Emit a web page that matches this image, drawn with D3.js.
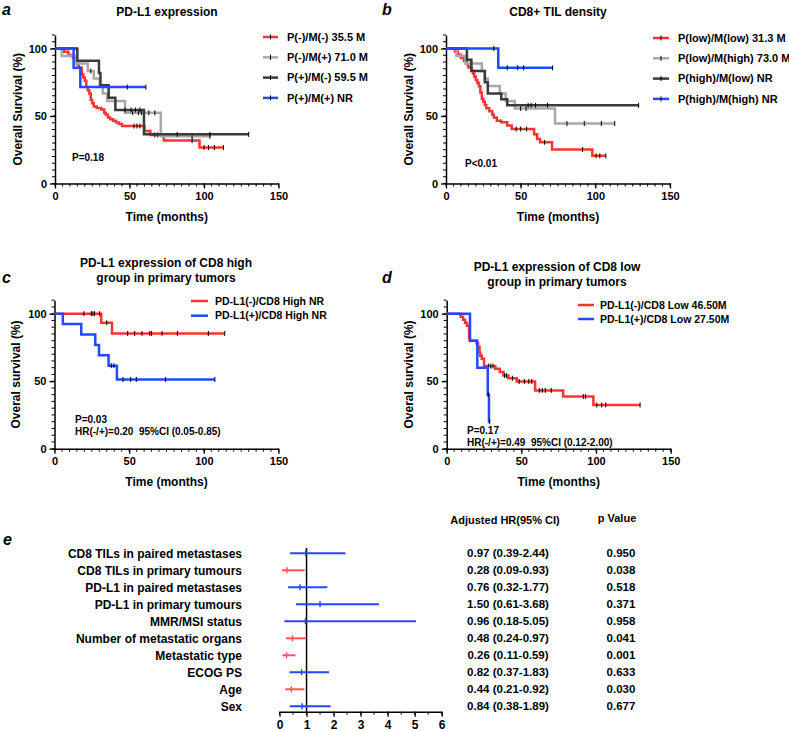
<!DOCTYPE html>
<html><head><meta charset="utf-8">
<script src="https://cdn.jsdelivr.net/npm/d3@7"></script>
<style>
body{margin:0;background:#fff}
svg{font-family:"Liberation Sans",Arial,Helvetica,sans-serif;font-weight:bold}
</style>
</head><body>
<svg id="chart" width="789" height="731"></svg>
<script>
// ---------------- DATA ----------------
// Panel a: PD-L1 expression  (steps = [time, survival after drop], censor = times)
const aLabels = ["P(-)/M(-) 35.5 M", "P(-)/M(+) 71.0 M", "P(+)/M(-) 59.5 M", "P(+)/M(+) NR"];
const aRedSteps = [[6,97.6],[9,95.2],[12,92.9],[14,90.5],[15,88.1],[16,85.7],[18,81],[19,78.6],[20,76.2],[21,71.4],[22,69],[23,66.7],[24,61.9],[25,59.5],[26,57.1],[28,56],[31,54.8],[33,52.4],[34,51.2],[35.5,48.8],[37,47.6],[39,46.4],[41,45.2],[43,44],[45,42.6],[60,38.9],[64,36],[73,31.9],[97,26.6]];
const aRedCensor = [53,55,57,67,69,92,100,103,107,113];
const aLgraySteps = [[4.5,94.4],[14,88.9],[22,83.3],[26,77.8],[30,72.2],[32,66.7],[35,61.1],[47,52.4],[71,35]];
const aLgrayCensor = [24,52,56,58,63,67,92,104];
const aDgraySteps = [[15,90.9],[29.5,81.8],[30.5,72.7],[36,63.6],[40.5,54.5],[59.7,36.4]];
const aDgrayCensor = [47,51,54,57,82,104,130];
const aBlueSteps = [[12.5,85.7],[17,71.4]];
const aBlueCensor = [48.5,61];

// Panel b: CD8+ TIL density
const bLabels = ["P(low)/M(low) 31.3 M", "P(low)/M(high) 73.0 M", "P(high)/M(low) NR", "P(high)/M(high) NR"];
const bRedSteps = [[6,97.7],[8,95.3],[10,93],[12,90.7],[14,88.4],[15,86],[17,83.7],[18,81.4],[19,79],[20,76.7],[21,74.4],[22,72.1],[23,67.4],[24,62.8],[25,60.5],[26,58.1],[27,55.8],[29,53.5],[31,51.2],[32,48.8],[34,46.5],[37,45.3],[41,43],[44,40.4],[59,36.5],[61,33],[63,30.5],[71,25.2],[98,20.5]];
const bRedCensor = [47,50,54,66,91.5,100.5,103,107];
const bLgraySteps = [[7,94.4],[13,88.9],[24,83.3],[26,77.8],[28,72.2],[36,66.7],[40,61.1],[46,55.6],[73,44.4]];
const bLgrayCensor = [50,53.6,81,92.6,104,113];
const bDgraySteps = [[14,91.7],[17,83.3],[26,75],[28,66.7],[37,62.5],[41,57.9]];
const bDgrayCensor = [55,57,60,68,129];
const bBlueSteps = [[35,85.7]];
const bBlueCensor = [32,41,48,52,71.4];

// Panel c: PD-L1 expression of CD8 high group
const cLabels = ["PD-L1(-)/CD8 High NR", "PD-L1(+)/CD8 High NR"];
const cRedSteps = [[31.3,93.3],[38.5,85.4]];
const cRedCensor = [19.7,24.6,25.7,26.8,30.2,35,49,53.7,58.6,63.8,65,72,82.3,103,114];
const cBlueSteps = [[5.6,92.3],[17.9,84.6],[27.3,76.9],[29.8,69.2],[36.2,61.5],[41.8,51.3]];
const cBlueCensor = [38,39.8,45.9,51,54.8,74.3,107.4];

// Panel d: PD-L1 expression of CD8 low group
const dLabels = ["PD-L1(-)/CD8 Low 46.50M", "PD-L1(+)/CD8 Low 27.50M"];
const dRedSteps = [[9.4,97.8],[11,95.6],[12.3,93.3],[13.5,91.1],[15,82],[15.5,80],[20,78],[21,75.5],[22,71],[22.5,68.9],[23.5,66.7],[25,61.2],[32.5,59.3],[35.5,56.8],[38,54.2],[41.3,52.2],[46.9,49.8],[59.2,43.2],[78,38.6],[98.2,32.4]];
const dRedCensor = [28,29.5,31,38.7,40,44,48.5,52,55,57,62,64,66,70,91.5,93,100.5,103.8,106.5,129.5];
const dBlueSteps = [[15.6,80],[20.5,60],[27.5,40],[28.3,20]];
const dBlueCensor = [27.8,28.8];

// Panel e: forest plot
const eLabels = ["CD8 TILs in paired metastases","CD8 TILs in primary tumours","PD-L1 in paired metastases","PD-L1 in primary tumours","MMR/MSI status","Number of metastatic organs","Metastatic type","ECOG PS","Age","Sex"];
const eHR = [0.97,0.28,0.76,1.50,0.96,0.48,0.26,0.82,0.44,0.84];
const eLo = [0.39,0.09,0.32,0.61,0.18,0.24,0.11,0.37,0.21,0.38];
const eHi = [2.44,0.93,1.77,3.68,5.05,0.97,0.59,1.83,0.92,1.89];
const eP  = ["0.950","0.038","0.518","0.371","0.958","0.041","0.001","0.633","0.030","0.677"];
const eTicks = [0,1,2,3,4,5,6];

// ---------------- DRAW ----------------
const RED = "#ff3333", BLUE = "#2348ff", LGRAY = "#a8a8a8", DGRAY = "#3a3a3a";
const svg = d3.select("#chart");

function kmPanel(cfg) {
  const x = d3.scaleLinear().domain([0,150]).range(cfg.xr);
  const y = d3.scaleLinear().domain([0,110]).range(cfg.yr);
  const g = svg.append("g");

  const minorX = d3.range(0,151,5), minorY = d3.range(0,111,5);
  g.selectAll(".mx").data(minorX).join("line")
    .attr("x1", d=>x(d)).attr("x2", d=>x(d)).attr("y1", y(0)).attr("y2", y(0)+3)
    .attr("stroke","#000").attr("stroke-width",1);
  g.selectAll(".my").data(minorY).join("line")
    .attr("y1", d=>y(d)).attr("y2", d=>y(d)).attr("x1", x(0)).attr("x2", x(0)-3)
    .attr("stroke","#000").attr("stroke-width",1);

  const xa = g.append("g").attr("transform",`translate(0,${y(0)})`)
    .call(d3.axisBottom(x).tickValues([0,50,100,150]).tickSize(5).tickSizeOuter(0).tickPadding(4));
  const ya = g.append("g").attr("transform",`translate(${x(0)},0)`)
    .call(d3.axisLeft(y).tickValues([0,50,100]).tickSize(5).tickSizeOuter(0).tickPadding(3));
  [xa,ya].forEach(a=>{
    a.selectAll("path").attr("stroke","#000").attr("stroke-width",1.5);
    a.selectAll("line").attr("stroke","#000").attr("stroke-width",1.3);
    a.selectAll("text").attr("font-size","11px").attr("font-weight","bold").attr("fill","#000")
      .attr("font-family","'Liberation Sans',Arial,sans-serif");
  });

  const t = g.append("text").attr("x", cfg.titleX).attr("y", cfg.titleY)
    .attr("text-anchor","middle").attr("font-size","12px");
  cfg.title.forEach((s,i)=> t.append("tspan").attr("x",cfg.titleX).attr("dy", i? 14.5:0).text(s));
  g.append("text").attr("x", cfg.panelX).attr("y", cfg.panelY).attr("font-size","16px")
    .attr("font-style","italic").text(cfg.panel);
  g.append("text").attr("x", (x(0)+x(150))/2).attr("y", y(0)+37)
    .attr("text-anchor","middle").attr("font-size","12px").text("Time (months)");
  g.append("text").attr("transform",`translate(${cfg.ytX},${(y(0)+y(110))/2}) rotate(-90)`)
    .attr("text-anchor","middle").attr("font-size","12px").text(cfg.yTitle);

  cfg.series.forEach(s=>{
    const ends = s.steps.length ? s.steps[s.steps.length-1][0] : 0;
    const endT = Math.max(ends, d3.max(s.censor));
    const pts = [[0,100], ...s.steps];
    const survAt = tt => { let v = 100; pts.forEach(p=>{ if (p[0] <= tt) v = p[1]; }); return v; };
    pts.push([endT, survAt(endT)]);
    const line = d3.line().x(d=>x(d[0])).y(d=>y(d[1])).curve(d3.curveStepAfter);
    g.append("path").attr("d", line(pts)).attr("fill","none")
      .attr("stroke", s.color).attr("stroke-width", 2.5);
    g.selectAll(null).data(s.censor).join("line")
      .attr("x1", d=>x(d)).attr("x2", d=>x(d))
      .attr("y1", d=>y(survAt(d))-2.5).attr("y2", d=>y(survAt(d))+2.5)
      .attr("stroke","#000").attr("stroke-width",1);
  });

  cfg.series.forEach((s,i)=>{
    const ly = cfg.legY + i*cfg.legDY;
    g.append("line").attr("x1", cfg.legX1).attr("x2", cfg.legX2).attr("y1", ly).attr("y2", ly)
      .attr("stroke", s.color).attr("stroke-width", 2.5);
    if (cfg.legTick) {
      const mx = (cfg.legX1+cfg.legX2)/2;
      g.append("line").attr("x1", mx).attr("x2", mx).attr("y1", ly-2.5).attr("y2", ly+2.5)
        .attr("stroke","#000").attr("stroke-width",1);
    }
    g.append("text").attr("x", cfg.legTX).attr("y", ly).attr("dy","0.35em")
      .attr("font-size", cfg.legFont).text(s.label);
  });

  cfg.notes.forEach((n,i)=>{
    g.append("text").attr("x", cfg.noteX).attr("y", cfg.noteY + i*12).attr("dy","0.35em")
      .attr("font-size","10px").attr("xml:space","preserve").style("white-space","pre").text(n);
  });
}

kmPanel({
  xr:[55,278.5], yr:[183.5,35], panel:"a", panelX:2, panelY:15,
  title:["PD-L1 expression"], titleX:167, titleY:16, ytX:22, yTitle:"Overall Survival (%)",
  series:[
    {label:aLabels[0], color:RED, steps:aRedSteps, censor:aRedCensor},
    {label:aLabels[1], color:LGRAY, steps:aLgraySteps, censor:aLgrayCensor},
    {label:aLabels[2], color:DGRAY, steps:aDgraySteps, censor:aDgrayCensor},
    {label:aLabels[3], color:BLUE, steps:aBlueSteps, censor:aBlueCensor}
  ],
  legX1:263, legX2:278, legTX:287, legY:37, legDY:20.3, legTick:true, legFont:"11px",
  notes:["P=0.18"], noteX:72, noteY:157
});

kmPanel({
  xr:[446,670], yr:[183.5,35], panel:"b", panelX:382, panelY:15,
  title:["CD8+ TIL density"], titleX:558, titleY:16, ytX:413, yTitle:"Overall Survival (%)",
  series:[
    {label:bLabels[0], color:RED, steps:bRedSteps, censor:bRedCensor},
    {label:bLabels[1], color:LGRAY, steps:bLgraySteps, censor:bLgrayCensor},
    {label:bLabels[2], color:DGRAY, steps:bDgraySteps, censor:bDgrayCensor},
    {label:bLabels[3], color:BLUE, steps:bBlueSteps, censor:bBlueCensor}
  ],
  legX1:653, legX2:669, legTX:678, legY:38, legDY:20.3, legTick:true, legFont:"11px",
  notes:["P<0.01"], noteX:465, noteY:163
});

kmPanel({
  xr:[54.5,278.5], yr:[448.7,300.2], panel:"c", panelX:2, panelY:283,
  title:["PD-L1 expression of CD8 high","group in primary tumors"], titleX:166, titleY:267, ytX:20, yTitle:"Overal survival (%)",
  series:[
    {label:cLabels[0], color:RED, steps:cRedSteps, censor:cRedCensor},
    {label:cLabels[1], color:BLUE, steps:cBlueSteps, censor:cBlueCensor}
  ],
  legX1:191, legX2:208, legTX:215, legY:301, legDY:14.7, legTick:false, legFont:"10.5px",
  notes:["P=0.03","HR(-/+)=0.20  95%CI (0.05-0.85)"], noteX:75, noteY:419
});

kmPanel({
  xr:[446.7,670.7], yr:[448.7,300.2], panel:"d", panelX:382, panelY:283,
  title:["PD-L1 expression of CD8 low","group in primary tumors"], titleX:557, titleY:271, ytX:413, yTitle:"Overal survival (%)",
  series:[
    {label:dLabels[0], color:RED, steps:dRedSteps, censor:dRedCensor},
    {label:dLabels[1], color:BLUE, steps:dBlueSteps, censor:dBlueCensor}
  ],
  legX1:578, legX2:594, legTX:600, legY:305, legDY:14, legTick:false, legFont:"10.5px",
  notes:["P=0.17","HR(-/+)=0.49  95%CI (0.12-2.00)"], noteX:467, noteY:430
});

// ---------------- Forest plot ----------------
(function(){
  const x = d3.scaleLinear().domain([0,6]).range([279.5,441.7]);
  const y = d3.scalePoint().domain(eLabels).range([553.3,706.3]);
  const g = svg.append("g");
  const axisY = 711.7;

  g.append("text").attr("x",3).attr("y",545).attr("font-size","16px").attr("font-style","italic").text("e");

  g.selectAll(".mn").data(d3.range(0,6.01,0.5)).join("line")
    .attr("x1",d=>x(d)).attr("x2",d=>x(d)).attr("y1",axisY).attr("y2",axisY+3)
    .attr("stroke","#000").attr("stroke-width",1);
  const xa = g.append("g").attr("transform",`translate(0,${axisY})`)
    .call(d3.axisBottom(x).tickValues(eTicks).tickFormat(d3.format("d")).tickSize(5).tickSizeOuter(0).tickPadding(4));
  xa.selectAll("path").attr("stroke","#000").attr("stroke-width",1.5);
  xa.selectAll("line").attr("stroke","#000").attr("stroke-width",1.3);
  xa.selectAll("text").attr("font-size","12px").attr("font-weight","bold").attr("fill","#000")
    .attr("font-family","'Liberation Sans',Arial,sans-serif");

  g.append("line").attr("x1",x(1)).attr("x2",x(1)).attr("y1",548).attr("y2",axisY)
    .attr("stroke","#000").attr("stroke-width",1.5);

  eLabels.forEach((lab,i)=>{
    const yy = y(lab);
    const col = (+eP[i] < 0.05) ? "#ff5555" : BLUE;
    g.append("line").attr("x1",x(eLo[i])).attr("x2",x(Math.min(eHi[i],6))).attr("y1",yy).attr("y2",yy)
      .attr("stroke",col).attr("stroke-width",2);
    g.append("line").attr("x1",x(eHR[i])).attr("x2",x(eHR[i])).attr("y1",yy-3).attr("y2",yy+3)
      .attr("stroke",col).attr("stroke-width",1.5);
    g.append("text").attr("x",242).attr("y",yy).attr("dy","0.35em").attr("text-anchor","end")
      .attr("font-size","12px").text(lab);
    g.append("text").attr("x",508).attr("y",yy).attr("dy","0.35em").attr("text-anchor","middle")
      .attr("font-size","11.5px").text(`${eHR[i].toFixed(2)} (${eLo[i].toFixed(2)}-${eHi[i].toFixed(2)})`);
    g.append("text").attr("x",621).attr("y",yy).attr("dy","0.35em").attr("text-anchor","middle")
      .attr("font-size","11.5px").text(eP[i]);
  });

  g.append("text").attr("x",505).attr("y",520).attr("dy","0.35em").attr("text-anchor","middle")
    .attr("font-size","11px").text("Adjusted HR(95% CI)");
  g.append("text").attr("x",617).attr("y",518).attr("dy","0.35em").attr("text-anchor","middle")
    .attr("font-size","11px").text("p Value");
})();
</script>
</body></html>
